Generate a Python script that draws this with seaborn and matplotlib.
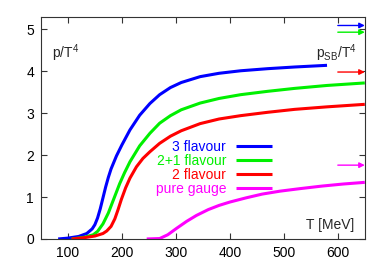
import matplotlib
matplotlib.use("Agg")
import matplotlib.pyplot as plt
import seaborn as sns
import pandas as pd

# ---- data ----
t_3f = [82, 100, 120, 135, 145, 150, 155, 160, 165, 170, 175, 180, 190, 200, 215, 233, 252, 270, 290, 310, 345, 380, 420, 470, 520, 580]
p_3f = [0, 0.02, 0.06, 0.13, 0.24, 0.34, 0.5, 0.72, 0.98, 1.24, 1.47, 1.67, 1.98, 2.24, 2.6, 2.95, 3.23, 3.44, 3.61, 3.73, 3.87, 3.95, 4.01, 4.06, 4.1, 4.14]

t_21f = [107, 130, 147, 155, 165, 175, 181, 190, 196, 205, 215, 233, 252, 270, 290, 310, 345, 380, 420, 470, 520, 580, 650]
p_21f = [0, 0.04, 0.1, 0.18, 0.36, 0.62, 0.82, 1.12, 1.32, 1.58, 1.84, 2.22, 2.52, 2.76, 2.94, 3.08, 3.24, 3.35, 3.44, 3.52, 3.59, 3.66, 3.72]

t_2f = [107, 130, 150, 165, 172, 180, 187, 193, 199, 207, 215, 227, 239, 252, 270, 290, 310, 345, 380, 420, 470, 520, 580, 650]
p_2f = [0, 0.03, 0.07, 0.13, 0.19, 0.3, 0.48, 0.7, 0.94, 1.22, 1.45, 1.72, 1.92, 2.08, 2.28, 2.45, 2.58, 2.75, 2.86, 2.94, 3.02, 3.09, 3.15, 3.21]

t_pg = [246, 270, 285, 301, 320, 338, 360, 380, 400, 430, 460, 493, 530, 570, 610, 650]
p_pg = [0, 0.01, 0.1, 0.25, 0.42, 0.56, 0.7, 0.8, 0.88, 0.98, 1.07, 1.14, 1.2, 1.26, 1.31, 1.35]

series_names = ["3 flavour", "2+1 flavour", "2 flavour", "pure gauge"]
series_colors = ["#0000ff", "#00f000", "#ff0000", "#ff00ff"]
sb_limits = [5.09, 4.93, 3.98, 1.76]

x_ticks = [100, 200, 300, 400, 500, 600]
y_ticks = [0, 1, 2, 3, 4, 5]

# ---- build table ----
frames = []
for name, t, p in zip(series_names, [t_3f, t_21f, t_2f, t_pg], [p_3f, p_21f, p_2f, p_pg]):
    frames.append(pd.DataFrame({"T": t, "p": p, "series": name}))
df = pd.concat(frames, ignore_index=True)

sns.set_style("ticks")
plt.rcParams["font.family"] = ["Liberation Sans", "DejaVu Sans"]
plt.rcParams["mathtext.fontset"] = "custom"
plt.rcParams["mathtext.rm"] = "Liberation Sans"
plt.rcParams["mathtext.it"] = "Liberation Sans"

fig = plt.figure(figsize=(3.82, 2.67), dpi=100)
ax = fig.add_axes([0.107, 0.105, 0.848, 0.831])

sns.lineplot(data=df, x="T", y="p", hue="series", hue_order=series_names,
             palette=series_colors, linewidth=2.2, ax=ax, sort=False, legend=True)
for ln in ax.get_lines():
    ln.set_solid_joinstyle("round")
    ln.set_solid_capstyle("butt")

for v, c in zip(sb_limits, series_colors):
    ax.annotate("", xy=(650, v), xytext=(600, v),
                arrowprops=dict(arrowstyle="-|>", color=c, lw=1.0,
                                mutation_scale=8, shrinkA=0, shrinkB=0))

ax.set_xlim(50, 650)
ax.set_ylim(0, 5.29)
ax.set_xticks(x_ticks)
ax.set_yticks(y_ticks)
ax.tick_params(direction="in", top=True, right=True, length=4, width=0.8,
               labelsize=10, colors="#333333", labelcolor="black", pad=5)
for s in ax.spines.values():
    s.set_color("#333333")
    s.set_linewidth(0.8)
ax.set_xlabel("")
ax.set_ylabel("")

ax.text(0.034, 0.835, r"p/T$^4$", transform=ax.transAxes, fontsize=10, va="center", ha="left")
ax.text(0.85, 0.835, r"p$_{\rm SB}$/T$^4$", transform=ax.transAxes, fontsize=10, va="center", ha="left")
ax.text(0.966, 0.063, "T [MeV]", transform=ax.transAxes, fontsize=10, va="center", ha="right")

handles, labels = ax.get_legend_handles_labels()
leg = ax.legend(handles, labels, loc="upper right", bbox_to_anchor=(0.713, 0.445),
                markerfirst=False, frameon=False, labelcolor="linecolor",
                handlelength=2.6, handletextpad=0.7, labelspacing=0.0,
                borderaxespad=0, borderpad=0, fontsize=10)

fig.savefig("out.png", dpi=100)
